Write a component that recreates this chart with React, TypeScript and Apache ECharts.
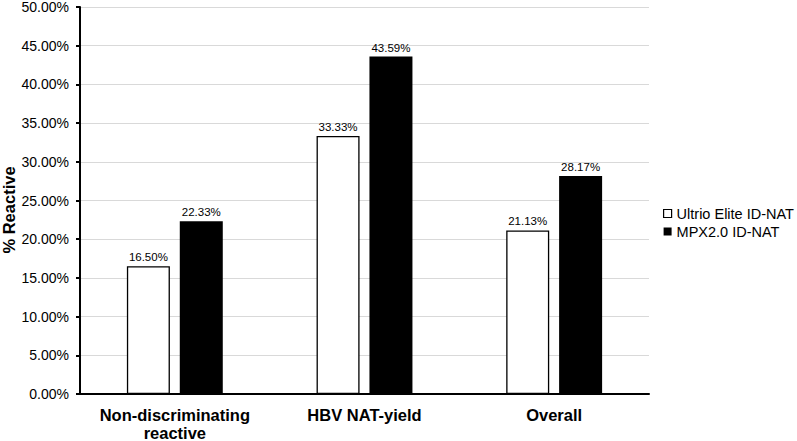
import React, { useEffect, useRef } from "react";
import * as echarts from "echarts";

const categories = ["Non-discriminating\nreactive", "HBV NAT-yield", "Overall"];
const ultrioValues = [16.5, 33.33, 21.13];
const mpxValues = [22.33, 43.59, 28.17];
const seriesNames = ["Ultrio Elite ID-NAT", "MPX2.0 ID-NAT"];
const yAxisTitle = "% Reactive";

export default function App() {
  const ref = useRef<HTMLDivElement>(null);
  useEffect(() => {
    if (!ref.current) return;
    const chart = echarts.init(ref.current, null, { renderer: "svg" });
    const font = "Liberation Sans, Arial, sans-serif";
    const pct = (p: any) => p.value.toFixed(2) + "%";
    chart.setOption({
      animation: false,
      textStyle: { fontFamily: font },
      grid: { left: 80, right: 148, top: 7, bottom: 47, containLabel: false, outerBoundsMode: "none" },
      legend: {
        orient: "vertical",
        left: 658,
        top: 201,
        itemWidth: 8,
        itemHeight: 8,
        itemGap: 3,
        textStyle: { fontSize: 14.5, color: "#000", fontFamily: font },
        data: [
          { name: seriesNames[0], icon: "rect", itemStyle: { color: "#fff", borderColor: "#000", borderWidth: 1.2 } },
          { name: seriesNames[1], icon: "rect", itemStyle: { color: "#000" } },
        ],
      },
      graphic: [
        {
          type: "text",
          x: 9,
          y: 210,
          rotation: Math.PI / 2,
          style: {
            text: yAxisTitle,
            fontSize: 16.5,
            fontWeight: "bold",
            fill: "#000",
            fontFamily: font,
            align: "center",
            verticalAlign: "middle",
          },
        },
      ],
      xAxis: {
        type: "category",
        data: categories,
        axisLine: { lineStyle: { color: "#000", width: 2 } },
        axisTick: { show: false },
        axisLabel: { interval: 0, hideOverlap: false, fontSize: 16.5, fontWeight: "bold", color: "#000", margin: 12, lineHeight: 18, fontFamily: font },
      },
      yAxis: {
        type: "value",
        min: 0,
        max: 50,
        interval: 5,
        axisLine: { show: true, lineStyle: { color: "#000", width: 2 } },
        axisTick: { show: true, length: 4, lineStyle: { color: "#000", width: 2 } },
        axisLabel: { fontSize: 14, color: "#000", margin: 11, formatter: (v: number) => v.toFixed(2) + "%", fontFamily: font },
        splitLine: { lineStyle: { color: "#d9d9d9", width: 1 } },
      },
      series: [
        {
          name: seriesNames[0],
          type: "bar",
          data: ultrioValues,
          barWidth: 43,
          barGap: "23%",
          itemStyle: { color: "#fff", borderColor: "#000", borderWidth: 1.3 },
          label: { show: true, position: "top", fontSize: 11.5, color: "#000", distance: 3, formatter: pct, fontFamily: font },
        },
        {
          name: seriesNames[1],
          type: "bar",
          data: mpxValues,
          barWidth: 43,
          itemStyle: { color: "#000" },
          label: { show: true, position: "top", fontSize: 11.5, color: "#000", distance: 3, formatter: pct, fontFamily: font },
        },
      ],
    });
    return () => chart.dispose();
  }, []);
  return <div ref={ref} style={{ width: 797, height: 441, position: "absolute", left: 0, top: 0 }} />;
}
